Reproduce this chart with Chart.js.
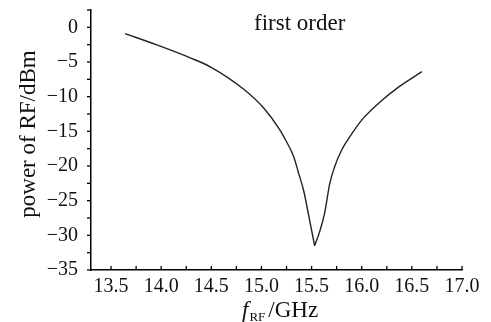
<!DOCTYPE html>
<html>
<head>
<meta charset="utf-8">
<script src="https://cdn.jsdelivr.net/npm/chart.js@4.4.1/dist/chart.umd.min.js"></script>
<style>
    html, body { margin: 0; padding: 0; background: #fff; }
    #wrap { width: 491px; height: 322px; }
</style>
</head>
<body>
<div id="wrap"><canvas id="power-chart" width="491" height="322"></canvas></div>
<script>
// First-order RF power versus RF frequency
const freqGHz = [13.64, 13.95, 14.29, 14.49, 14.82, 15.02, 15.18, 15.25, 15.32, 15.37, 15.42, 15.48, 15.53,
                 15.58, 15.63, 15.68, 15.73, 15.80, 15.88, 16.01, 16.18, 16.35, 16.60];
const powerDbm = [-0.9, -2.5, -4.4, -5.7, -8.9, -11.6, -14.7, -16.5, -18.6, -21.0, -23.5, -27.8, -31.5,
                  -29.5, -26.8, -22.6, -20.1, -17.7, -15.8, -13.2, -10.8, -8.8, -6.4];

const xRange = [13.3, 17.0];
const yRange = [-35, 2.5];
const xTicks = [13.5, 13.75, 14.0, 14.25, 14.5, 14.75, 15.0, 15.25, 15.5, 15.75,
                16.0, 16.25, 16.5, 16.75, 17.0];
const yTicks = [-35, -32.5, -30, -27.5, -25, -22.5, -20, -17.5, -15, -12.5, -10,
                -7.5, -5, -2.5, 0, 2.5];

const serif = 'Liberation Serif';
Chart.defaults.font.family = serif;
Chart.defaults.color = '#111';

function onMultiple(v, m) {
    const r = v / m;
    return Math.abs(r - Math.round(r)) < 1e-6;
}

// split at the notch so each branch keeps its own slope into the minimum
const notch = powerDbm.indexOf(Math.min(...powerDbm));
const toPoints = (a, b) => freqGHz.slice(a, b).map((f, i) => ({ x: f, y: powerDbm[a + i] }));
const branches = [toPoints(0, notch + 1), toPoints(notch, freqGHz.length)];

// Tick marks (x inward, y outward), axis titles and the in-plot note
const decorations = {
    id: 'decorations',
    afterDraw(chart) {
        const ctx = chart.ctx;
        const area = chart.chartArea;
        const xs = chart.scales.x;
        const ys = chart.scales.y;
        ctx.save();
        ctx.strokeStyle = '#000';
        ctx.lineWidth = 1.3;

        xs.ticks.forEach(t => {
            const px = xs.getPixelForValue(t.value);
            ctx.beginPath();
            ctx.moveTo(px, area.bottom);
            ctx.lineTo(px, area.bottom - 4);
            ctx.stroke();
        });
        ys.ticks.forEach(t => {
            const py = ys.getPixelForValue(t.value);
            ctx.beginPath();
            ctx.moveTo(area.left, py);
            ctx.lineTo(area.left - 4, py);
            ctx.stroke();
        });

        ctx.fillStyle = '#111';

        // note inside plot
        ctx.font = '23px ' + serif;
        ctx.textAlign = 'left';
        ctx.textBaseline = 'alphabetic';
        ctx.fillText('first order', 254, 30);

        // y axis title
        ctx.save();
        ctx.translate(35, 134);
        ctx.rotate(-Math.PI / 2);
        ctx.textAlign = 'center';
        ctx.font = '23px ' + serif;
        ctx.fillText('power of RF/dBm', 0, 0);
        ctx.restore();

        // x axis title: f_RF /GHz
        const baseY = 317;
        let x = 242;
        ctx.textAlign = 'left';
        ctx.font = 'italic 23px ' + serif;
        ctx.fillText('f', x, baseY);
        x += ctx.measureText('f').width + 1;
        ctx.font = '13px ' + serif;
        ctx.fillText('RF', x, baseY + 4);
        x += ctx.measureText('RF').width + 3;
        ctx.font = '23px ' + serif;
        ctx.fillText('/GHz', x, baseY);

        ctx.restore();
    }
};

const lineStyle = {
    borderColor: '#222',
    borderWidth: 1.4,
    pointRadius: 0,
    fill: false,
    cubicInterpolationMode: 'monotone'
};

const chart = new Chart(document.getElementById('power-chart'), {
    type: 'line',
    data: {
        datasets: branches.map(pts => Object.assign({ data: pts }, lineStyle))
    },
    options: {
        responsive: false,
        animation: false,
        layout: { padding: { left: 0, right: 29, top: 10, bottom: 0 } },
        plugins: {
            legend: { display: false },
            tooltip: { enabled: false }
        },
        scales: {
            x: {
                type: 'linear',
                min: xRange[0],
                max: xRange[1],
                afterBuildTicks: (s) => { s.ticks = xTicks.map(v => ({ value: v })); },
                afterFit: (s) => { s.height = 52; },
                grid: { display: false },
                border: { display: true, color: '#000', width: 1.5 },
                ticks: {
                    autoSkip: false,
                    maxRotation: 0,
                    padding: -3,
                    font: { family: serif, size: 20 },
                    callback: (v) => onMultiple(v, 0.5) ? v.toFixed(1) : ''
                }
            },
            y: {
                min: yRange[0],
                max: yRange[1],
                afterBuildTicks: (s) => { s.ticks = yTicks.map(v => ({ value: v })); },
                afterFit: (s) => {
                    s.width = 91;
                    s.paddingTop = 0;
                    s.paddingBottom = 0;
                },
                grid: { display: false },
                border: { display: true, color: '#000', width: 1.5 },
                ticks: {
                    autoSkip: false,
                    padding: 5,
                    font: { family: serif, size: 20 },
                    callback: (v) => onMultiple(v, 5) ? (v < 0 ? '\u2212' + Math.abs(v) : String(v)) : ''
                }
            }
        }
    },
    plugins: [decorations]
});
</script>
</body>
</html>
